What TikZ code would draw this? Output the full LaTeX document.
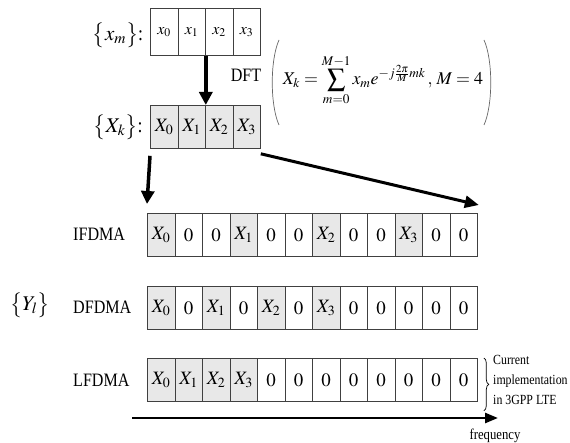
\documentclass[tikz,border=0pt]{standalone}
\usepackage{mathptmx}
\usepackage{fontspec}
\setmainfont{Liberation Serif}[FakeStretch=0.85]
\usetikzlibrary{arrows.meta,decorations.pathreplacing}
\begin{document}
\begin{tikzpicture}[x=1bp,y=-1bp,
 cell/.style={draw=black!75,line width=0.8bp,minimum width=27.5bp,minimum height=43bp,inner sep=0,anchor=north west,font=\fontsize{19}{20}\selectfont},
 bigarrow/.style={line width=3.5bp,-{Triangle[width=13bp,length=13bp]}},
 lbl/.style={font=\fontsize{19}{22}\selectfont,anchor=west,inner sep=0}]
\useasboundingbox (0,0) rectangle (570,443);

% top rows
\foreach \i/\t in {0/x_0,1/x_1,2/x_2,3/x_3}
  \node[cell,minimum height=47bp,font=\fontsize{16}{18}\selectfont] (xm\i) at ({150+27.5*\i},8) {$\t$};
\foreach \i/\t in {0/X_0,1/X_1,2/X_2,3/X_3}
  \node[cell,fill=black!9] (Xk\i) at ({150+27.5*\i},105) {$\t$};

\node[font=\fontsize{21}{24}\selectfont,inner sep=1bp] (lxm) at (118,35) {$\bigl\{x_m\bigr\}$:};
\node[font=\fontsize{21}{24}\selectfont,inner sep=1bp] (lXk) at (118,127) {$\bigl\{X_k\bigr\}$:};

% DFT formula
\node[font=\fontsize{19}{22}\selectfont] (dft) at (246,75) {DFT};
\node[font=\fontsize{18}{22}\selectfont] (form) at (383,80)
  {$\displaystyle X_k=\sum_{m=0}^{M-1}x_m e^{-j\frac{2\pi}{M}mk}\,,\,M=4$};
\draw[black!60,line width=0.7bp] (279,40) .. controls (270,60) and (270,105) .. (279,125);
\draw[black!60,line width=0.7bp] (484,40) .. controls (493,60) and (493,105) .. (484,125);

% allocation rows
\foreach \i/\t/\s in {0/X_0/black!9,1/0/white,2/0/white,3/X_1/black!9,4/0/white,5/0/white,6/X_2/black!9,7/0/white,8/0/white,9/X_3/black!9,10/0/white,11/0/white}
  \node[cell,fill=\s] (I\i) at ({147+27.5*\i},213) {$\t$};
\foreach \i/\t/\s in {0/X_0/black!9,1/0/white,2/X_1/black!9,3/0/white,4/X_2/black!9,5/0/white,6/X_3/black!9,7/0/white,8/0/white,9/0/white,10/0/white,11/0/white}
  \node[cell,fill=\s] (D\i) at ({147+27.5*\i},286) {$\t$};
\foreach \i/\t/\s in {0/X_0/black!9,1/X_1/black!9,2/X_2/black!9,3/X_3/black!9,4/0/white,5/0/white,6/0/white,7/0/white,8/0/white,9/0/white,10/0/white,11/0/white}
  \node[cell,fill=\s] (L\i) at ({147+27.5*\i},358) {$\t$};

\node[lbl] (tI) at (73,234) {IFDMA};
\node[lbl] (tD) at (73,307) {DFDMA};
\node[lbl] (tL) at (73,380) {LFDMA};
\node[font=\fontsize{21}{24}\selectfont] (Yl) at (30,305) {$\bigl\{Y_l\bigr\}$};

% arrows
\draw[bigarrow] (xm1.south east) -- (Xk1.north east);
\draw[bigarrow] ([yshift=-7bp]Xk0.south west) -- ([yshift=9bp]I0.north west);
\draw[line width=3bp,-{Triangle[width=12bp,length=14bp]}] ([yshift=-5bp]Xk3.south east) -- ([xshift=1bp,yshift=8bp]I11.north east);

% brace and note
\draw[decorate,decoration={brace,amplitude=5bp},line width=0.7bp] ([xshift=6bp]L11.north east) -- ([xshift=6bp,yshift=-9bp]L11.south east);
\node[anchor=west,align=left,inner sep=0,font=\fontsize{14}{20}\selectfont] (cur) at (493,380) {Current\\implementation\\in\ 3GPP LTE};

% frequency axis
\coordinate (fa) at (132,418);
\coordinate (fb) at (498,418);
\draw[line width=2.5bp,-{Triangle[width=10bp,length=13bp]}] (fa) -- (fb);
\node[font=\fontsize{15}{18}\selectfont] (freq) at (495,436) {frequency};
\end{tikzpicture}
\end{document}
